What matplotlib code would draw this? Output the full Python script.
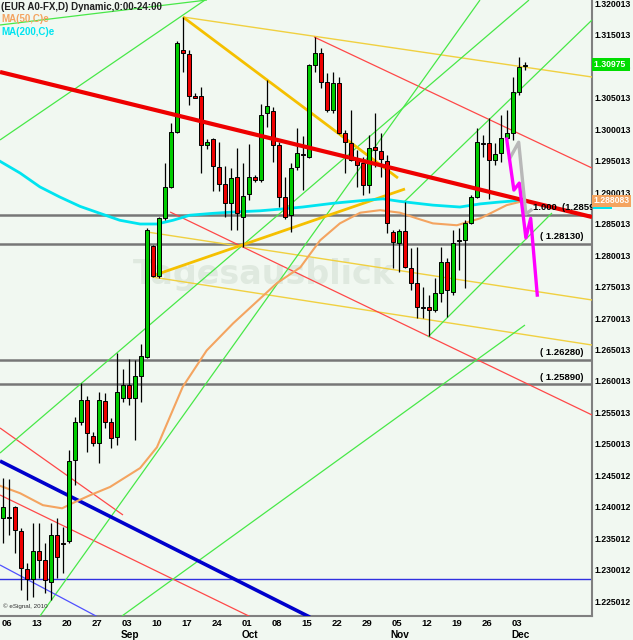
#!/usr/bin/env python3

import matplotlib
matplotlib.use('Agg')
import matplotlib.pyplot as plt
import matplotlib.transforms as mtransforms

BG = '#f1f8f1'
FONT = 'Liberation Sans'

# daily candles, index 0 = Mon 06 Aug
opens = [1.2376, 1.2378, 1.2394, 1.2356, 1.2295, 1.2279, 1.2324, 1.2310, 1.2275, 1.2349,
         1.2337, 1.2340, 1.2469, 1.2529, 1.2564, 1.2507, 1.2496, 1.2562, 1.2529, 1.2505,
         1.2567, 1.2588, 1.2567, 1.2602, 1.2632, 1.2809, 1.2761, 1.2853, 1.2903, 1.2990,
         1.3120, 1.3114, 1.3047, 1.3047, 1.2969, 1.2979, 1.2934, 1.2907, 1.2877, 1.2919,
         1.2855, 1.2892, 1.2919, 1.2914, 1.3020, 1.3023, 1.2969, 1.2887, 1.2858, 1.2934,
         1.2955, 1.2950, 1.3097, 1.3116, 1.3070, 1.3025, 1.3068, 1.2989, 1.2973, 1.2946,
         1.2941, 1.2906, 1.2966, 1.2960, 1.2944, 1.2832, 1.2814, 1.2833, 1.2774, 1.2750,
         1.2712, 1.2712, 1.2707, 1.2734, 1.2783, 1.2736, 1.2817, 1.2818, 1.2845, 1.2887,
         1.2973, 1.2973, 1.2946, 1.2957, 1.2981, 1.2989, 1.3054, 1.3095]
highs = [1.2440, 1.2438, 1.2395, 1.2360, 1.2305, 1.2368, 1.2368, 1.2337, 1.2368, 1.2376,
         1.2362, 1.2485, 1.2537, 1.2591, 1.2570, 1.2513, 1.2577, 1.2575, 1.2535, 1.2639,
         1.2613, 1.2629, 1.2628, 1.2653, 1.2837, 1.2810, 1.2855, 1.2941, 1.3004, 1.3135,
         1.3173, 1.3120, 1.3052, 1.3062, 1.2979, 1.2981, 1.2974, 1.2936, 1.2933, 1.2965,
         1.2941, 1.2971, 1.2922, 1.3035, 1.3073, 1.3030, 1.2974, 1.2919, 1.2941, 1.2996,
         1.2984, 1.3098, 1.3141, 1.3124, 1.3084, 1.3086, 1.3078, 1.2993, 1.3025, 1.2962,
         1.2950, 1.2985, 1.3020, 1.2988, 1.2954, 1.2834, 1.2836, 1.2879, 1.2806, 1.2807,
         1.2744, 1.2731, 1.2758, 1.2807, 1.2790, 1.2834, 1.2837, 1.2850, 1.2890, 1.2996,
         1.2985, 1.3012, 1.2973, 1.3017, 1.3025, 1.3078, 1.3109, 1.3101]
lows = [1.2337, 1.2349, 1.2321, 1.2262, 1.2246, 1.2251, 1.2281, 1.2257, 1.2246, 1.2281,
        1.2289, 1.2337, 1.2429, 1.2524, 1.2481, 1.2491, 1.2464, 1.2519, 1.2488, 1.2492,
        1.2561, 1.2556, 1.2500, 1.2561, 1.2631, 1.2760, 1.2758, 1.2850, 1.2901, 1.2989,
        1.3086, 1.3033, 1.3044, 1.2925, 1.2964, 1.2896, 1.2896, 1.2855, 1.2834, 1.2834,
        1.2807, 1.2882, 1.2911, 1.2911, 1.2998, 1.2942, 1.2871, 1.2852, 1.2831, 1.2930,
        1.2898, 1.2949, 1.3086, 1.3060, 1.3022, 1.3020, 1.2987, 1.2925, 1.2944, 1.2903,
        1.2890, 1.2893, 1.2934, 1.2919, 1.2829, 1.2774, 1.2767, 1.2774, 1.2739, 1.2694,
        1.2694, 1.2666, 1.2704, 1.2720, 1.2696, 1.2731, 1.2771, 1.2742, 1.2844, 1.2885,
        1.2950, 1.2884, 1.2938, 1.2942, 1.2978, 1.2978, 1.3049, 1.3089]
closes = [1.2394, 1.2376, 1.2357, 1.2297, 1.2279, 1.2324, 1.2310, 1.2278, 1.2349, 1.2314,
          1.2335, 1.2467, 1.2529, 1.2564, 1.2512, 1.2496, 1.2564, 1.2529, 1.2504, 1.2577,
          1.2588, 1.2567, 1.2602, 1.2634, 1.2834, 1.2761, 1.2853, 1.2903, 1.2990, 1.3132,
          1.3116, 1.3047, 1.3045, 1.2969, 1.2974, 1.2936, 1.2907, 1.2877, 1.2917, 1.2861,
          1.2888, 1.2919, 1.2914, 1.3017, 1.3031, 1.2969, 1.2887, 1.2855, 1.2933, 1.2957,
          1.2953, 1.3097, 1.3116, 1.3070, 1.3025, 1.3068, 1.2989, 1.2974, 1.2946, 1.2938,
          1.2906, 1.2965, 1.2962, 1.2947, 1.2845, 1.2815, 1.2833, 1.2776, 1.2750, 1.2712,
          1.2710, 1.2707, 1.2734, 1.2783, 1.2739, 1.2814, 1.2818, 1.2845, 1.2887, 1.2974,
          1.2971, 1.2946, 1.2955, 1.2981, 1.2989, 1.3054, 1.3093, 1.30975]

# moving averages (day index, price)
ma50_idx = [-0.5, 2.9, 6.7, 9.9, 11.6, 14.6, 17.9, 22.9, 25.7, 30, 34, 38.4, 45.7, 49.6,
            52.9, 56.2, 59.6, 62.9, 66.2, 69, 71.7, 75.7, 79.6, 84, 87]
ma50_val = [1.2428, 1.2416, 1.2397, 1.2392, 1.2400, 1.2413, 1.2426, 1.2456, 1.2489, 1.2585,
            1.2643, 1.2686, 1.2750, 1.2775, 1.2818, 1.2845, 1.2862, 1.2866, 1.2862, 1.2853,
            1.2845, 1.2842, 1.2853, 1.2874, 1.2881]
ma200_idx = [-0.5, 2.9, 6.2, 9.5, 12.9, 16.2, 19.5, 22.9, 25.7, 28.4, 31.2, 35.1, 38.4,
             42.9, 46.7, 50, 55.1, 60.7, 63.4, 66.2, 71.7, 76.2, 79.6, 82.9, 87]
ma200_val = [1.2944, 1.2925, 1.2903, 1.2887, 1.2872, 1.2861, 1.2850, 1.2844, 1.2844, 1.2850,
             1.2858, 1.2861, 1.2863, 1.2865, 1.2868, 1.2871, 1.2877, 1.2882, 1.2884, 1.2880,
             1.2874, 1.2871, 1.2876, 1.2879, 1.2882]

# drawn trend lines: (start idx, start price, end idx, end price)
red_thick = [(-0.45, 1.30857, 98.22, 1.28551)]
blue_thick = [(-0.45, 1.24672, 51.2, 1.2219)]
blue_thin = [(-0.45, 1.23019, 15.9, 1.2219)]
red_thin = [(51.9, 1.31413, 98.22, 1.29330), (27.9, 1.28631, 98.22, 1.25404),
            (-0.45, 1.25197, 20.05, 1.23814), (-0.45, 1.24132, 41.4, 1.2219)]
green_thin = [(-0.45, 1.29776, 33.72, 1.32001), (-0.45, 1.31604, 34.05, 1.32001),
              (-0.45, 1.24799, 87.72, 1.32001), (6.22, 1.22208, 79.55, 1.32001),
              (66.88, 1.28790, 98.22, 1.31683), (70.88, 1.26644, 91.55, 1.28615),
              (19.88, 1.22208, 87.05, 1.26834)]
gold_thick = [(30.05, 1.31731, 65.88, 1.29171), (24.88, 1.27613, 67.05, 1.28997)]
yellow_thin = [(30.05, 1.31731, 98.22, 1.30777), (24.05, 1.28313, 98.22, 1.27232),
               (24.88, 1.27598, 98.22, 1.26516)]
blue_level = 1.2279
fib_levels = [1.2859, 1.2813, 1.2628, 1.2589]
fib_labels = ['1.000  (1.28590)', '( 1.28130)', '( 1.26280)', '( 1.25890)']

# projected paths at the right end
magenta_idx = [84.0, 85.2, 86.1, 87.2, 88.0, 89.1]
magenta_val = [1.2979, 1.2898, 1.2909, 1.2822, 1.2853, 1.2731]
grey_idx = [84.55, 86.0, 87.2, 88.05]
grey_val = [1.2949, 1.2974, 1.2860, 1.2866]

ytick_labels = ['1.320013', '1.315013', '1.310013', '1.305013', '1.300013', '1.295013',
                '1.290013', '1.285013', '1.280013', '1.275013', '1.270013', '1.265013',
                '1.260013', '1.255013', '1.250013', '1.245012', '1.240012', '1.235012',
                '1.230012', '1.225012']
xtick_idx = [0, 5, 10, 15, 20, 25, 30, 35, 40, 45, 50, 55, 60, 65, 70, 75, 80, 85]
xtick_labels = ['06', '13', '20', '27', '03', '10', '17', '24', '01', '08', '15', '22',
                '29', '05', '12', '19', '26', '03']
months = [('Sep', 20), ('Oct', 40), ('Nov', 65), ('Dec', 85)]

last_price = 1.30975
ma50_last = 1.288083


def draw_lines(ax, segs, color, lw, z=3):
  for x0, y0, x1, y1 in segs:
    ax.plot([x0, x1], [y0, y1], color=color, lw=lw, zorder=z, solid_capstyle='butt')


if __name__ == '__main__':
  fig = plt.figure(figsize=(6.33, 6.40), dpi=100, facecolor=BG)
  ax = fig.add_axes([0, 24 / 640, 592 / 633, 616 / 640])
  ax.set_facecolor(BG)

  top = 1.320013
  ax.set_ylim(top - 616 / 6290, top)
  ax.set_xlim(-0.45, 98.22)

  # watermark
  ax.text(0.445, 0.555, 'Tagesausblick', transform=ax.transAxes, fontsize=24,
          fontweight='bold', family='DejaVu Sans', color='#dfe9df', ha='center',
          va='center', zorder=0)

  # horizontal levels
  for lev in fib_levels:
    ax.axhline(lev, color='#777777', lw=1.8, zorder=2)
  ax.axhline(blue_level, color='#3030e0', lw=1.0, zorder=2)

  draw_lines(ax, yellow_thin, '#f0d040', 1.0)
  draw_lines(ax, red_thin, '#ff4848', 0.9)
  draw_lines(ax, green_thin, '#48e848', 0.9)
  draw_lines(ax, blue_thin, '#5050ff', 0.9)
  draw_lines(ax, gold_thick, '#f5c000', 2.0)
  draw_lines(ax, blue_thick, '#0000cc', 2.6)

  ax.plot(ma200_idx, ma200_val, color='#00e4f0', lw=2.0, zorder=3)
  ax.plot(ma50_idx, ma50_val, color='#f4a460', lw=1.5, zorder=3)

  # candles
  n = len(opens)
  idx = list(range(n))
  ax.vlines(idx, lows, highs, color='black', lw=0.9, zorder=4)
  bottoms = [min(o, c) for o, c in zip(opens, closes)]
  heights = [max(abs(c - o), 0.00012) for o, c in zip(opens, closes)]
  colors = ['#00cc00' if c >= o else '#ee0000' for o, c in zip(opens, closes)]
  ax.bar(idx, heights, bottom=bottoms, width=0.62, color=colors,
         edgecolor='black', linewidth=0.7, zorder=5)

  draw_lines(ax, red_thick, '#ee0000', 3.0, z=6)

  ax.plot(grey_idx, grey_val, color='#b8b8b8', lw=2.4, zorder=7)
  ax.plot(magenta_idx, magenta_val, color='#ff00ff', lw=2.4, zorder=7)

  # level labels
  for lev, lab in zip(fib_levels, fib_labels):
    if lab.startswith('1.000'):
      ax.text(88.4, lev + 0.0004, lab, fontsize=6.8, fontweight='bold', family=FONT,
              ha='left', va='bottom', zorder=8, clip_on=True)
    else:
      ax.text(96.8, lev + 0.0004, lab, fontsize=6.8, fontweight='bold', family=FONT,
              ha='right', va='bottom', zorder=8)

  # header
  ax.text(0.002, 0.997, '(EUR A0-FX,D) Dynamic,0:00-24:00', transform=ax.transAxes,
          fontsize=7, family=FONT, fontweight='bold', color='#202020', va='top', ha='left')
  ax.text(0.002, 0.978, 'MA(50,C)e', transform=ax.transAxes, fontsize=7, family=FONT,
          fontweight='bold', color='#f4a460', va='top', ha='left')
  ax.text(0.002, 0.956, 'MA(200,C)e', transform=ax.transAxes, fontsize=7, family=FONT,
          fontweight='bold', color='#00e4f0', va='top', ha='left')
  ax.text(0.005, 0.012, '\u00a9 eSignal, 2010', transform=ax.transAxes, fontsize=4.5,
          family=FONT, color='#303030', va='bottom', ha='left')

  # y axis on the right
  ax.yaxis.tick_right()
  ax.set_yticks([float(s) for s in ytick_labels])
  ax.set_yticklabels(ytick_labels, fontsize=6.2, family=FONT, fontweight='bold')
  for lab in ax.get_yticklabels():
    lab.set_verticalalignment('top')
  ax.tick_params(axis='y', length=0, pad=1.5)

  ax.set_xticks([i + 0.72 for i in xtick_idx])
  ax.set_xticklabels(xtick_labels, fontsize=6.8, family=FONT, fontweight='bold')
  ax.tick_params(axis='x', length=0, pad=2)
  for name, i in months:
    fig.text((2.7 + 6 * (i + 0.72) + 3) / 633, 5 / 640, name, fontsize=7.2,
             family=FONT, fontweight='bold', ha='center', va='center')

  for s in ['top', 'left']:
    ax.spines[s].set_visible(False)
  for s in ['right', 'bottom']:
    ax.spines[s].set_color('#808080')
    ax.spines[s].set_linewidth(1.5)

  # price boxes on the axis
  trans = mtransforms.blended_transform_factory(ax.transAxes, ax.transData)
  ax.text(1.003, ma50_last - 0.0009, ' ' * 20, transform=trans, fontsize=2, va='center',
          ha='left', zorder=9, clip_on=False,
          bbox=dict(boxstyle='square,pad=0.3', fc='#00e4f0', ec='none'))
  ax.text(1.003, ma50_last, '1.288083', transform=trans, fontsize=6.2, family=FONT,
          fontweight='bold', color='white', va='center', ha='left', zorder=10, clip_on=False,
          bbox=dict(boxstyle='square,pad=0.15', fc='#f4a460', ec='none'))
  ax.text(1.003, last_price, '1.30975 ', transform=trans, fontsize=6.2, family=FONT,
          fontweight='bold', color='white', va='center', ha='left', zorder=10, clip_on=False,
          bbox=dict(boxstyle='square,pad=0.25', fc='#00dd00', ec='none'))

  fig.savefig('out.png', dpi=100, facecolor=BG)
